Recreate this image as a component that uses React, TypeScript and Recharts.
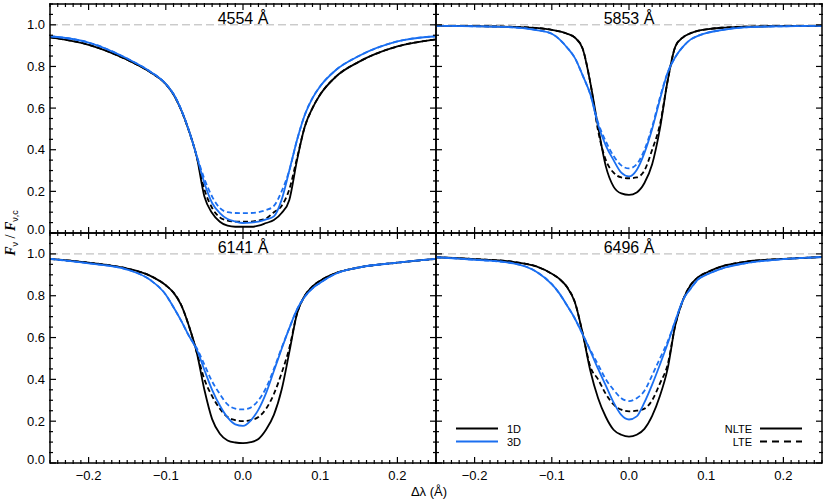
import React from 'react';
import { LineChart, Line, XAxis, YAxis, ReferenceLine } from 'recharts';

// wavelength offset from line centre (Å), shared by every panel
const dLambda = [-0.25, -0.2, -0.15, -0.12, -0.1, -0.09, -0.08, -0.07, -0.06, -0.05, -0.04, -0.03, -0.02, -0.01, 0,
  0.01, 0.02, 0.03, 0.04, 0.05, 0.06, 0.07, 0.08, 0.09, 0.1, 0.12, 0.15, 0.2, 0.25];

// 4554 Å
const nlte1d4554 = [0.94, 0.904, 0.832, 0.772, 0.715, 0.665, 0.59, 0.49, 0.367, 0.175, 0.096, 0.054, 0.035, 0.03, 0.03, 0.03, 0.035, 0.048, 0.062, 0.096, 0.159, 0.35, 0.51, 0.6, 0.665, 0.75, 0.822, 0.896, 0.93];
const lte1d4554 = [0.94, 0.904, 0.832, 0.772, 0.715, 0.665, 0.59, 0.49, 0.367, 0.21, 0.12, 0.075, 0.06, 0.055, 0.055, 0.055, 0.06, 0.07, 0.1, 0.13, 0.21, 0.36, 0.51, 0.6, 0.665, 0.75, 0.822, 0.896, 0.93];
const nlte3d4554 = [0.945, 0.915, 0.838, 0.775, 0.716, 0.668, 0.592, 0.492, 0.37, 0.24, 0.144, 0.096, 0.067, 0.055, 0.048, 0.05, 0.055, 0.065, 0.08, 0.159, 0.3, 0.447, 0.567, 0.648, 0.705, 0.782, 0.85, 0.92, 0.945];
const lte3d4554 = [0.945, 0.915, 0.838, 0.775, 0.716, 0.668, 0.592, 0.492, 0.372, 0.26, 0.175, 0.12, 0.1, 0.096, 0.095, 0.096, 0.1, 0.11, 0.13, 0.2, 0.3, 0.447, 0.567, 0.648, 0.705, 0.782, 0.85, 0.92, 0.945];

// 5853 Å
const nlte1d5853 = [0.995, 0.994, 0.99, 0.985, 0.976, 0.968, 0.957, 0.938, 0.885, 0.72, 0.51, 0.32, 0.223, 0.19, 0.183, 0.195, 0.24, 0.33, 0.5, 0.73, 0.895, 0.94, 0.96, 0.972, 0.978, 0.986, 0.991, 0.994, 0.995];
const lte1d5853 = [0.995, 0.994, 0.99, 0.985, 0.976, 0.968, 0.957, 0.938, 0.885, 0.72, 0.49, 0.35, 0.29, 0.267, 0.263, 0.267, 0.3, 0.4, 0.52, 0.73, 0.895, 0.94, 0.96, 0.972, 0.978, 0.986, 0.991, 0.994, 0.995];
const nlte3d5853 = [0.995, 0.993, 0.988, 0.975, 0.957, 0.93, 0.89, 0.84, 0.757, 0.665, 0.52, 0.42, 0.35, 0.29, 0.272, 0.303, 0.385, 0.5, 0.64, 0.77, 0.845, 0.895, 0.93, 0.948, 0.96, 0.975, 0.988, 0.993, 0.995];
const lte3d5853 = [0.995, 0.993, 0.988, 0.975, 0.957, 0.93, 0.89, 0.84, 0.757, 0.665, 0.53, 0.44, 0.37, 0.325, 0.31, 0.33, 0.4, 0.51, 0.65, 0.77, 0.845, 0.895, 0.93, 0.948, 0.96, 0.975, 0.988, 0.993, 0.995];

// 6141 Å
const nlte1d6141 = [0.976, 0.958, 0.93, 0.895, 0.85, 0.815, 0.755, 0.655, 0.53, 0.35, 0.21, 0.14, 0.108, 0.098, 0.095, 0.1, 0.115, 0.16, 0.23, 0.35, 0.53, 0.715, 0.8, 0.845, 0.872, 0.908, 0.935, 0.958, 0.976];
const lte1d6141 = [0.976, 0.958, 0.93, 0.895, 0.85, 0.815, 0.755, 0.655, 0.53, 0.4, 0.32, 0.26, 0.22, 0.205, 0.2, 0.205, 0.22, 0.26, 0.33, 0.43, 0.55, 0.715, 0.8, 0.845, 0.872, 0.908, 0.935, 0.958, 0.976];
const nlte3d6141 = [0.976, 0.955, 0.925, 0.875, 0.805, 0.745, 0.68, 0.608, 0.543, 0.445, 0.35, 0.275, 0.218, 0.185, 0.178, 0.203, 0.255, 0.335, 0.44, 0.545, 0.645, 0.735, 0.795, 0.835, 0.862, 0.905, 0.935, 0.958, 0.976];
const lte3d6141 = [0.976, 0.955, 0.925, 0.875, 0.805, 0.745, 0.68, 0.608, 0.55, 0.47, 0.39, 0.33, 0.28, 0.26, 0.256, 0.265, 0.3, 0.36, 0.45, 0.55, 0.645, 0.735, 0.795, 0.835, 0.862, 0.905, 0.935, 0.958, 0.976];

// 6496 Å
const nlte1d6496 = [0.984, 0.975, 0.962, 0.94, 0.905, 0.88, 0.84, 0.768, 0.62, 0.44, 0.31, 0.22, 0.159, 0.135, 0.126, 0.135, 0.163, 0.225, 0.32, 0.45, 0.66, 0.78, 0.852, 0.89, 0.91, 0.94, 0.962, 0.976, 0.985];
const lte1d6496 = [0.984, 0.975, 0.962, 0.94, 0.905, 0.88, 0.84, 0.768, 0.62, 0.46, 0.4, 0.33, 0.28, 0.255, 0.247, 0.25, 0.26, 0.3, 0.38, 0.47, 0.66, 0.78, 0.852, 0.89, 0.91, 0.94, 0.962, 0.976, 0.985];
const nlte3d6496 = [0.984, 0.972, 0.955, 0.915, 0.855, 0.81, 0.752, 0.69, 0.615, 0.535, 0.45, 0.37, 0.29, 0.23, 0.208, 0.223, 0.29, 0.375, 0.47, 0.57, 0.68, 0.78, 0.835, 0.88, 0.9, 0.93, 0.955, 0.975, 0.985];
const lte3d6496 = [0.984, 0.972, 0.955, 0.915, 0.855, 0.81, 0.752, 0.69, 0.615, 0.54, 0.47, 0.4, 0.35, 0.31, 0.296, 0.31, 0.345, 0.42, 0.5, 0.58, 0.68, 0.78, 0.835, 0.88, 0.9, 0.93, 0.955, 0.975, 0.985];

// axis ticks
const xMajor = [-0.2, -0.1, 0, 0.1, 0.2];
const yMajor = [0, 0.2, 0.4, 0.6, 0.8, 1.0];
const xMinor = Array.from({ length: 51 }, (_, i) => Math.round((-0.25 + i * 0.01) * 1000) / 1000)
  .filter((v) => !xMajor.some((m) => Math.abs(m - v) < 1e-6));
const yMinor = Array.from({ length: 23 }, (_, i) => Math.round(i * 0.05 * 1000) / 1000)
  .filter((v) => !yMajor.some((m) => Math.abs(m - v) < 1e-6));

const BLUE = '#1b6ff0';
const SANS = '"Liberation Sans", Arial, Helvetica, sans-serif';
const SERIF = '"Liberation Serif", "Times New Roman", serif';

const fmt = (v: number) => (v < -1e-9 ? '\u2212' : '') + Math.abs(v).toFixed(1);

const xLabel = (props: any) => (
  <text x={props.x} y={props.y + 17} textAnchor="middle" fontFamily={SANS} fontSize={13} fill="#000">
    {fmt(props.payload.value)}
  </text>
);
const yLabel = (props: any) => (
  <text x={props.x - 5} y={props.y + 4.5 - (props.payload.value === 0 ? 4 : 0)} textAnchor="end" fontFamily={SANS} fontSize={13} fill="#000">
    {fmt(props.payload.value)}
  </text>
);
const noLabel = () => <g />;

const panels = [
  { title: '4554 Å', left: 50, top: 4, h: 229, xLab: false, yLab: true, s: [nlte1d4554, lte1d4554, nlte3d4554, lte3d4554] },
  { title: '5853 Å', left: 436, top: 4, h: 229, xLab: false, yLab: false, s: [nlte1d5853, lte1d5853, nlte3d5853, lte3d5853] },
  { title: '6141 Å', left: 50, top: 233, h: 230, xLab: true, yLab: true, s: [nlte1d6141, lte1d6141, nlte3d6141, lte3d6141] },
  { title: '6496 Å', left: 436, top: 233, h: 230, xLab: true, yLab: false, s: [nlte1d6496, lte1d6496, nlte3d6496, lte3d6496] },
];

const frame = { stroke: '#000', strokeWidth: 1.5 };
const tickLn = { stroke: '#000', strokeWidth: 1.2 };
const PW = 386;
const MAJ = 6;
const MIN = 4; // minor axis sits 1px outside the frame, so 3px show inside

function Panel({ p }: { p: any }) {
  const rows = dLambda.map((x, i) => ({
    x,
    nlte1d: p.s[0][i],
    lte1d: p.s[1][i],
    nlte3d: p.s[2][i],
    lte3d: p.s[3][i],
  }));
  const xCommon = { type: 'number' as const, dataKey: 'x', domain: [-0.25, 0.25], interval: 0, height: 1, allowDataOverflow: true, tickLine: tickLn };
  const yCommon = { type: 'number' as const, domain: [0, 1.1], interval: 0, width: 1, allowDataOverflow: true, tickLine: tickLn };
  return (
    <div style={{ position: 'absolute', left: p.left - 50, top: p.top - 10 }}>
      <LineChart width={PW + 60} height={p.h + 45} data={rows} margin={{ top: 8, right: 8, bottom: 33, left: 48 }}>
        <XAxis xAxisId="b" {...xCommon} ticks={xMajor} tickSize={-MAJ} tickMargin={MAJ} axisLine={frame} tick={p.xLab ? xLabel : noLabel} />
        <XAxis xAxisId="bm" {...xCommon} ticks={xMinor} tickSize={-MIN} tickMargin={MIN} axisLine={false} tick={noLabel} />
        <XAxis xAxisId="t" orientation="top" {...xCommon} ticks={xMajor} tickSize={-MAJ} tickMargin={MAJ} axisLine={frame} tick={noLabel} />
        <XAxis xAxisId="tm" orientation="top" {...xCommon} ticks={xMinor} tickSize={-MIN} tickMargin={MIN} axisLine={false} tick={noLabel} />
        <YAxis yAxisId="l" {...yCommon} ticks={yMajor} tickSize={-MAJ} tickMargin={MAJ} axisLine={frame} tick={p.yLab ? yLabel : noLabel} />
        <YAxis yAxisId="lm" {...yCommon} ticks={yMinor} tickSize={-MIN} tickMargin={MIN} axisLine={false} tick={noLabel} />
        <YAxis yAxisId="r" orientation="right" {...yCommon} ticks={yMajor} tickSize={-MAJ} tickMargin={MAJ} axisLine={frame} tick={noLabel} />
        <YAxis yAxisId="rm" orientation="right" {...yCommon} ticks={yMinor} tickSize={-MIN} tickMargin={MIN} axisLine={false} tick={noLabel} />
        <ReferenceLine xAxisId="b" yAxisId="l" y={1} stroke="#b4b4b4" strokeWidth={1} strokeDasharray="8 4" />
        <Line xAxisId="b" yAxisId="l" type="monotone" dataKey="nlte1d" stroke="#000" strokeWidth={1.8} dot={false} isAnimationActive={false} />
        <Line xAxisId="b" yAxisId="l" type="monotone" dataKey="lte1d" stroke="#000" strokeWidth={1.8} strokeDasharray="5 3" dot={false} isAnimationActive={false} />
        <Line xAxisId="b" yAxisId="l" type="monotone" dataKey="nlte3d" stroke={BLUE} strokeWidth={1.8} dot={false} isAnimationActive={false} />
        <Line xAxisId="b" yAxisId="l" type="monotone" dataKey="lte3d" stroke={BLUE} strokeWidth={1.8} strokeDasharray="5 3" dot={false} isAnimationActive={false} />
      </LineChart>
    </div>
  );
}

export default function App() {
  return (
    <div style={{ position: 'relative', width: 830, height: 499, background: '#fff', fontFamily: SANS }}>
      <style>{'body{margin:0}'}</style>
      {panels.map((p) => <Panel key={p.title} p={p} />)}
      <svg width={830} height={499} style={{ position: 'absolute', left: 0, top: 0, pointerEvents: 'none' }}>
        {panels.map((p) => (
          <text key={p.title} x={p.left + PW / 2} y={p.top + 20} textAnchor="middle" fontFamily={SANS} fontSize={16} fill="#000">{p.title}</text>
        ))}
        <text transform="translate(15,233) rotate(-90)" textAnchor="middle" fontFamily={SERIF} fontSize={14} fill="#000">
          <tspan fontStyle="italic" fontWeight="bold">F</tspan>
          <tspan fontFamily={SANS} fontSize={9} dy={3}>ν</tspan>
          <tspan dy={-3}> / </tspan>
          <tspan fontStyle="italic" fontWeight="bold">F</tspan>
          <tspan fontFamily={SANS} fontSize={9} dy={3}>ν,c</tspan>
        </text>
        <text x={429} y={496} textAnchor="middle" fontFamily={SANS} fontSize={13} fill="#000">Δλ (Å)</text>
        {/* legend */}
        <line x1={456} y1={428.5} x2={498} y2={428.5} stroke="#000" strokeWidth={2} />
        <line x1={456} y1={441.5} x2={498} y2={441.5} stroke={BLUE} strokeWidth={2} />
        <text x={507} y={432.5} fontFamily={SANS} fontSize={11} fill="#000">1D</text>
        <text x={507} y={445.5} fontFamily={SANS} fontSize={11} fill="#000">3D</text>
        <text x={752} y={432.5} textAnchor="end" fontFamily={SANS} fontSize={11} fill="#000">NLTE</text>
        <text x={752} y={445.5} textAnchor="end" fontFamily={SANS} fontSize={11} fill="#000">LTE</text>
        <line x1={760} y1={428.5} x2={802} y2={428.5} stroke="#000" strokeWidth={2} />
        <line x1={760} y1={441.5} x2={802} y2={441.5} stroke="#000" strokeWidth={2} strokeDasharray="7 5" />
      </svg>
    </div>
  );
}
